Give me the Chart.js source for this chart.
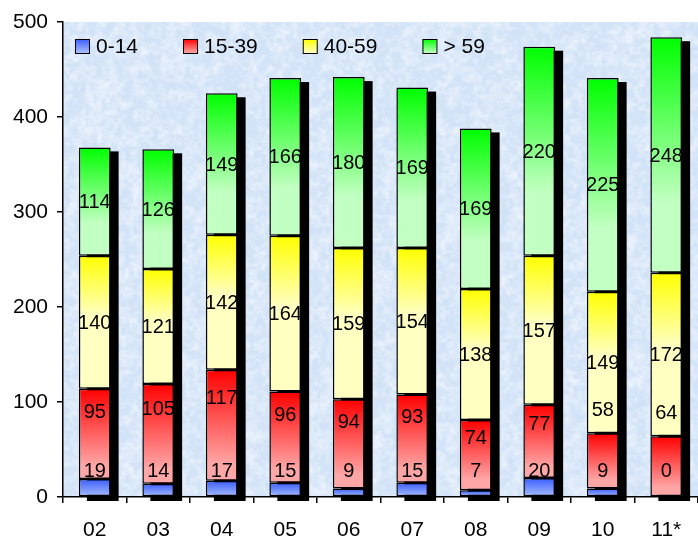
<!DOCTYPE html>
<html>
<head>
<meta charset="utf-8">
<script src="https://cdn.jsdelivr.net/npm/chart.js@4.4.0/dist/chart.umd.min.js"></script>
<style>
html, body { margin: 0; padding: 0; background: #fff; }
#wrap { width: 698px; height: 536px; }
</style>
</head>
<body>
<div id="wrap"><canvas id="chart" width="698" height="536"></canvas></div>
<script>
// Данные по годам
const years = ['02', '03', '04', '05', '06', '07', '08', '09', '10', '11*'];
const age0_14 = [19, 14, 17, 15, 9, 15, 7, 20, 9, 0];
const age15_39 = [95, 105, 117, 96, 94, 93, 74, 77, 58, 64];
const age40_59 = [140, 121, 142, 164, 159, 154, 138, 157, 149, 172];
const age60plus = [114, 126, 149, 166, 180, 169, 169, 220, 225, 248];
const seriesNames = ['0-14', '15-39', '40-59', '> 59'];
const yMax = 500;
const yStep = 100;

const seriesList = [age0_14, age15_39, age40_59, age60plus];
// top colour, bottom colour, where the fade ends
const fills = [
    ['#3a5cff', '#a9c0ff', 1.0],
    ['#ff0000', '#ffa6a6', 0.85],
    ['#ffff00', '#ffffc2', 0.45],
    ['#00ff00', '#c2ffc2', 0.7]
];

const FONT = '"Liberation Sans", Arial, sans-serif';

function segmentBounds(dsIndex, i) {
    let base = 0;
    for (let k = 0; k < dsIndex; k++) base += seriesList[k][i];
    return [base, base + seriesList[dsIndex][i]];
}

function segmentFill(dsIndex) {
    return function(context) {
        const chart = context.chart;
        const y = chart.scales.y;
        const f = fills[dsIndex];
        if (!y || context.type !== 'data') return f[1];
        const [lo, hi] = segmentBounds(dsIndex, context.dataIndex);
        const yTop = y.getPixelForValue(hi);
        const yBot = y.getPixelForValue(lo);
        if (!isFinite(yTop) || !isFinite(yBot) || yBot - yTop < 1) return f[1];
        const g = chart.ctx.createLinearGradient(0, yTop, 0, yBot);
        g.addColorStop(0, f[0]);
        g.addColorStop(f[2], f[1]);
        g.addColorStop(1, f[1]);
        return g;
    };
}

// Пятнистая текстура фона (детерминированный шум)
function makeTexture(w, h) {
    const c = document.createElement('canvas');
    c.width = w; c.height = h;
    const cx = c.getContext('2d');
    const img = cx.createImageData(w, h);
    const hash = (x, y) => {
        let n = x * 374761393 + y * 668265263;
        n = (n ^ (n >> 13)) * 1274126177;
        return ((n ^ (n >> 16)) & 0xffff) / 0xffff;
    };
    const smooth = (x, y, cell) => {
        const gx = Math.floor(x / cell), gy = Math.floor(y / cell);
        const fx = x / cell - gx, fy = y / cell - gy;
        const sx = fx * fx * (3 - 2 * fx), sy = fy * fy * (3 - 2 * fy);
        const a = hash(gx, gy), b = hash(gx + 1, gy), c2 = hash(gx, gy + 1), d = hash(gx + 1, gy + 1);
        return (a * (1 - sx) + b * sx) * (1 - sy) + (c2 * (1 - sx) + d * sx) * sy;
    };
    for (let y = 0; y < h; y++) {
        for (let x = 0; x < w; x++) {
            const v = 0.35 * smooth(x, y, 9) + 0.4 * smooth(x + 100, y + 50, 4) + 0.25 * smooth(x + 7, y + 3, 2);
            const t = Math.min(1, Math.max(0, (v - 0.35) * 1.8));
            const i = (y * w + x) * 4;
            img.data[i] = 210 + t * 28;
            img.data[i + 1] = 227 + t * 17;
            img.data[i + 2] = 247 + t * 6;
            img.data[i + 3] = 255;
        }
    }
    cx.putImageData(img, 0, 0);
    return c;
}
let texture = null;

// Фон области построения
const plotBackground = {
    id: 'plotBackground',
    beforeDraw(chart) {
        const { ctx, chartArea: a } = chart;
        const w = Math.round(a.right - a.left), h = Math.round(a.bottom - a.top);
        if (!texture || texture.width !== w || texture.height !== h) texture = makeTexture(w, h);
        ctx.save();
        ctx.drawImage(texture, a.left, a.top);
        ctx.restore();
    }
};

// Чёрная тень за столбцами
const barShadow = {
    id: 'barShadow',
    beforeDatasetsDraw(chart) {
        const { ctx } = chart;
        const y = chart.scales.y;
        const meta = chart.getDatasetMeta(0);
        ctx.save();
        ctx.fillStyle = '#000';
        meta.data.forEach((bar, i) => {
            let total = 0;
            seriesList.forEach(s => total += s[i]);
            const w = bar.width;
            const top = y.getPixelForValue(total);
            const bottom = y.getPixelForValue(0);
            ctx.fillRect(bar.x - w / 2 + 8, top + 4, w, bottom - top);
        });
        ctx.restore();
    }
};

// Подписи значений
const valueLabels = {
    id: 'valueLabels',
    afterDatasetsDraw(chart) {
        const { ctx } = chart;
        const y = chart.scales.y;
        ctx.save();
        ctx.font = '20px ' + FONT;
        ctx.fillStyle = '#000';
        ctx.textAlign = 'center';
        ctx.textBaseline = 'middle';
        seriesList.forEach((series, d) => {
            const meta = chart.getDatasetMeta(d);
            meta.data.forEach((bar, i) => {
                const [lo, hi] = segmentBounds(d, i);
                const yTop = y.getPixelForValue(hi);
                const yBot = y.getPixelForValue(lo);
                let ly;
                if (d === 0) {
                    ly = y.getPixelForValue(0) - 27;
                } else if (d === 1) {
                    ly = (yBot - yTop) >= 66 ? yBot - 0.75 * (yBot - yTop) : yTop - 24;
                } else {
                    ly = (yTop + yBot) / 2;
                }
                ctx.fillText(String(series[i]), bar.x, ly + 1);
            });
        });
        ctx.restore();
    }
};

// Легенда внутри области построения
const insideLegend = {
    id: 'insideLegend',
    afterDraw(chart) {
        const { ctx, chartArea: a } = chart;
        ctx.save();
        ctx.font = '21px ' + FONT;
        ctx.textBaseline = 'middle';
        ctx.textAlign = 'left';
        let x = a.left + 12;
        const boxTop = a.top + 17;
        seriesNames.forEach((name, d) => {
            const f = fills[d];
            const g = ctx.createLinearGradient(0, boxTop, 0, boxTop + 14);
            g.addColorStop(0, f[0]);
            g.addColorStop(1, f[1]);
            ctx.fillStyle = g;
            ctx.fillRect(x, boxTop, 14, 14);
            ctx.strokeStyle = '#000';
            ctx.lineWidth = 1;
            ctx.strokeRect(x + 0.5, boxTop + 0.5, 14, 14);
            ctx.fillStyle = '#000';
            ctx.fillText(name, x + 21, boxTop + 8);
            x += 21 + ctx.measureText(name).width + 45;
        });
        ctx.restore();
    }
};

const ctx = document.getElementById('chart').getContext('2d');
const chart = new Chart(ctx, {
    type: 'bar',
    data: {
        labels: years,
        datasets: seriesList.map((s, d) => ({
            label: seriesNames[d],
            data: s,
            backgroundColor: segmentFill(d),
            borderColor: '#000',
            borderWidth: 1.5,
            borderSkipped: false,
            barPercentage: 0.5,
            categoryPercentage: 1.0
        }))
    },
    options: {
        responsive: false,
        animation: false,
        layout: { padding: { top: 22, right: 0, left: 0, bottom: 0 } },
        plugins: {
            legend: { display: false },
            tooltip: { enabled: false }
        },
        scales: {
            x: {
                stacked: true,
                afterFit: s => { s.height = 39; },
                grid: { offset: true, drawOnChartArea: false, color: '#000', lineWidth: 1.5, tickLength: 6 },
                border: { color: '#000', width: 1.5 },
                ticks: { color: '#000', font: { family: FONT, size: 21 }, padding: 15 }
            },
            y: {
                stacked: true,
                min: 0,
                max: yMax,
                afterFit: s => { s.width = 63; },
                grid: { drawOnChartArea: false, color: '#000', lineWidth: 1.5, tickLength: 6 },
                border: { color: '#000', width: 1.5 },
                ticks: { stepSize: yStep, color: '#000', font: { family: FONT, size: 21 }, padding: 9 }
            }
        }
    },
    plugins: [plotBackground, barShadow, valueLabels, insideLegend]
});
</script>
</body>
</html>
